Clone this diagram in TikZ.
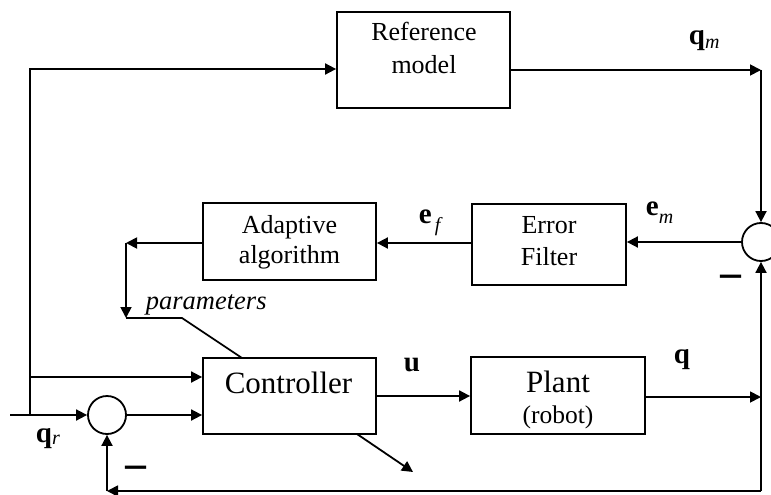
\documentclass[tikz,border=0pt]{standalone}
\usepackage{fontspec}
\setmainfont{Liberation Serif}
\usetikzlibrary{arrows.meta}
\begin{document}
\begin{tikzpicture}[x=1pt,y=-1pt,line width=1.8pt,
  blk/.style 2 args={draw,rectangle,inner sep=0pt,minimum width=#1,minimum height=#2},
  sumc/.style={draw,circle,inner sep=0pt,minimum size=38},
  arr/.style={-{Triangle[length=11pt,width=11pt]}},
  txt/.style={anchor=base,inner sep=0pt,font=\fontsize{26}{30}\selectfont},
  big/.style={anchor=base,inner sep=0pt,font=\fontsize{31}{36}\selectfont},
  sig/.style={anchor=base west,inner sep=0pt,font=\fontsize{29}{32}\selectfont\bfseries},
  minus/.style={inner sep=0pt,font=\fontsize{21}{21}\selectfont\bfseries}]
\clip (0,0) rectangle (771,495);
% blocks
\node[blk={173}{96}] (rm) at (423.5,60) {};
\node[blk={173}{77}] (aa) at (289.5,241.5) {};
\node[blk={154}{81}] (ef) at (549,244.5) {};
\node[blk={173}{76}] (ctrl) at (289.5,396) {};
\node[blk={174}{77}] (plant) at (558,395.5) {};
\node[sumc] (s1) at (107,415) {};
\node[sumc] (s2) at (761,242) {};
% block texts
\node[txt] (t1) at (424,40.7) {Reference};
\node[txt] (t2) at (424,73.3) {model};
\node[txt] (t3) at (289.5,233) {Adaptive};
\node[txt] (t4) at (289.5,263) {algorithm};
\node[txt] (t5) at (549,233) {Error};
\node[txt] (t6) at (549,265) {Filter};
\node[big] (t7) at (288.5,393) {Controller};
\node[big] (t8) at (558,392) {Plant};
\node[txt,font=\fontsize{25.5}{30}\selectfont] (t9) at (558,423) {(robot)};
\node[txt,anchor=base west,font=\fontsize{26.5}{30}\selectfont\itshape] (par) at (145,309) {parameters};
% signal labels
\node[sig] (lqm) at (688,45) {q\raisebox{-4pt}{\fontsize{20}{20}\selectfont\mdseries\itshape m}};
\node[sig] (lem) at (645,215) {e\raisebox{-8pt}{\fontsize{20}{20}\selectfont\mdseries\itshape m}};
\node[sig] (lef) at (418,223) {e\hspace{3pt}\raisebox{-8pt}{\fontsize{20}{20}\selectfont\mdseries\itshape f}};
\node[sig] (lu) at (403,371) {u};
\node[sig] (lq) at (673,363) {q};
\node[sig] (lqr) at (35,442) {q\raisebox{-2pt}{\fontsize{20}{20}\selectfont\mdseries\itshape r}};
\node[minus] (m1) at (135.5,472) {\scalebox{1}[2.2]{—}};
\node[minus] (m2) at (731,281) {\scalebox{1}[2.2]{—}};
% coordinates
\coordinate (in) at (10,415);
\coordinate (j1) at (30,415);
\coordinate (j2) at (30,377);
\coordinate (tl) at (30,69);
\coordinate (tr) at (761,70);
\coordinate (br) at (761,491);
\coordinate (bl) at (107,491);
\coordinate (pa) at (126,243);
\coordinate (pb) at (126,318);
\coordinate (pc) at (182,318);
\coordinate (pd) at (242,358);
\coordinate (d1) at (357,434);
\coordinate (d2) at (413,472);
\coordinate (pq) at (761,397);
% connectors
\draw[arr] (j1) -- (tl) -- (tl -| rm.west);
\draw[arr] (j2) -- (j2 -| ctrl.west);
\draw[arr] (in) -- (s1.west);
\draw[arr] (s1.east) -- (s1.east -| ctrl.west);
\draw[arr] (ctrl.east) -- (ctrl.east -| plant.west);
\draw[arr] (plant.east |- pq) -- (pq);
\draw[arr] (br) -- (s2.south);
\draw[arr] (br) -- (bl);
\draw[arr] (bl) -- (s1.south);
\draw[arr] (rm.east |- tr) -- (tr);
\draw[arr] (tr) -- (s2.north);
\draw[arr] (s2.west) -- (s2.west -| ef.east);
\draw[arr] (ef.west |- pa) -- (pa -| aa.east);
\draw[arr] (aa.west |- pa) -- (pa);
\draw[arr] (pa) -- (pb);
\draw (pb) -- (pc) -- (pd);
\draw[arr] (d1) -- (d2);
\end{tikzpicture}
\end{document}
